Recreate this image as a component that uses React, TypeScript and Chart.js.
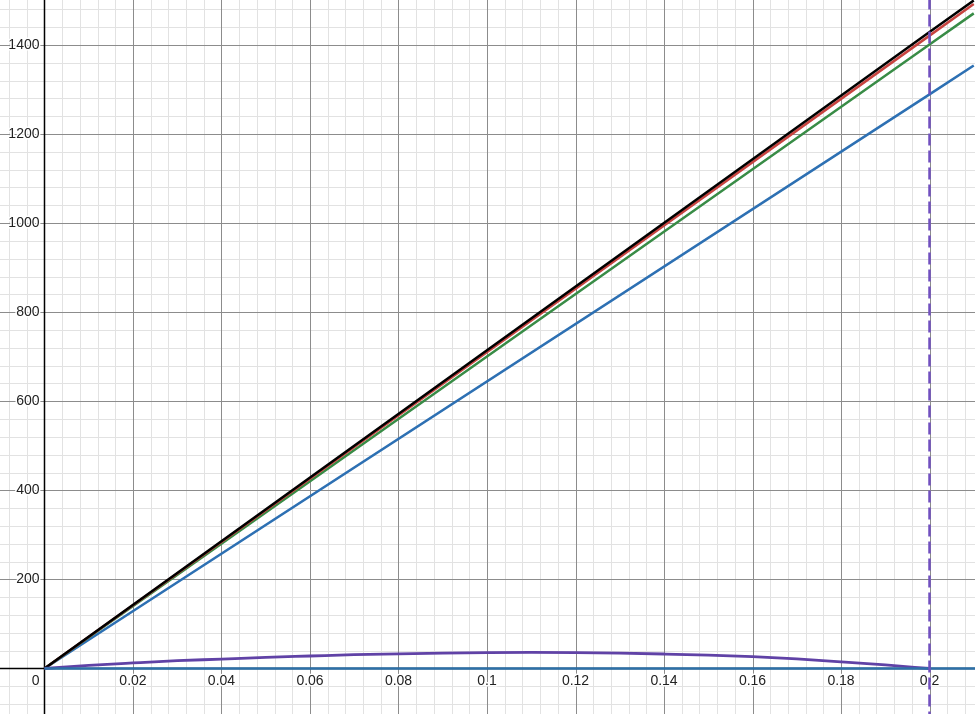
import React, { useEffect, useRef } from 'react';
import { Chart, registerables } from 'chart.js';

Chart.register(...registerables);

// Visible window (graph units)
const X_MIN = -0.010056;
const X_MAX = 0.210282;
const Y_MIN = -102.2;
const Y_MAX = 1501;

// Straight lines through the origin
const lineX = [0, 0.2, 0.21];
const blackY = [0, 1429, 1500];
const redY = [0, 1421, 1492];
const greenY = [0, 1401, 1471];
const blueY = [0, 1289, 1354];

// Purple curve
const curveX = [0, 0.01, 0.02, 0.03, 0.04, 0.05, 0.06, 0.07, 0.08, 0.09, 0.1, 0.11, 0.12, 0.13, 0.14, 0.15, 0.16, 0.17, 0.18, 0.19, 0.2];
const curveY = [0, 7, 12.5, 17.5, 21, 25, 28, 31, 33, 34.5, 35.5, 36, 35.5, 34.5, 32.5, 30, 26.5, 21.5, 15, 8, 0];

// Horizontal base line
const baseX = [0, 0.22];
const baseY = [0, 0];

// Dashed vertical line
const vertX = [0.2, 0.2];
const vertY = [-200, 1600];

// Tick labels
const xTickValues = [0.02, 0.04, 0.06, 0.08, 0.1, 0.12, 0.14, 0.16, 0.18, 0.2];
const xTickLabels = ['0.02', '0.04', '0.06', '0.08', '0.1', '0.12', '0.14', '0.16', '0.18', '0.2'];
const yTickValues = [200, 400, 600, 800, 1000, 1200, 1400];
const yTickLabels = ['200', '400', '600', '800', '1000', '1200', '1400'];

const X_MINOR = 0.004;
const X_MAJOR = 0.02;
const Y_MINOR = 40;
const Y_MAJOR = 200;

const pts = (xs: number[], ys: number[]) => xs.map((x, i) => ({ x, y: ys[i] }));

const gridPlugin = {
  id: 'desmosGrid',
  beforeDatasetsDraw(chart: any) {
    const { ctx, chartArea, scales } = chart;
    const xs = scales.x;
    const ys = scales.y;
    const { left, right, top, bottom } = chartArea;
    ctx.save();
    const crisp = (v: number) => Math.round(v) + 0.5;

    const vLine = (v: number, color: string, w: number) => {
      const px = crisp(xs.getPixelForValue(v));
      ctx.strokeStyle = color;
      ctx.lineWidth = w;
      ctx.beginPath();
      ctx.moveTo(px, top);
      ctx.lineTo(px, bottom);
      ctx.stroke();
    };
    const hLine = (v: number, color: string, w: number) => {
      const py = crisp(ys.getPixelForValue(v));
      ctx.strokeStyle = color;
      ctx.lineWidth = w;
      ctx.beginPath();
      ctx.moveTo(left, py);
      ctx.lineTo(right, py);
      ctx.stroke();
    };

    // minor grid
    for (let i = Math.ceil(X_MIN / X_MINOR); i * X_MINOR <= X_MAX; i++) {
      if (i % 5 !== 0) vLine(i * X_MINOR, '#e2e2e2', 1);
    }
    for (let i = Math.ceil(Y_MIN / Y_MINOR); i * Y_MINOR <= Y_MAX; i++) {
      if (i % 5 !== 0) hLine(i * Y_MINOR, '#e2e2e2', 1);
    }
    // major grid
    for (let i = Math.ceil(X_MIN / X_MAJOR); i * X_MAJOR <= X_MAX; i++) {
      if (i !== 0) vLine(i * X_MAJOR, '#8c8c8c', 1);
    }
    for (let i = Math.ceil(Y_MIN / Y_MAJOR); i * Y_MAJOR <= Y_MAX; i++) {
      if (i !== 0) hLine(i * Y_MAJOR, '#8c8c8c', 1);
    }

    // axes
    const ox = xs.getPixelForValue(0);
    const oy = ys.getPixelForValue(0);
    ctx.strokeStyle = '#000';
    ctx.lineWidth = 1.5;
    ctx.beginPath();
    ctx.moveTo(ox, top);
    ctx.lineTo(ox, bottom);
    ctx.moveTo(left, oy);
    ctx.lineTo(right, oy);
    ctx.stroke();

    // labels
    ctx.font = '14px "Liberation Sans", Arial, sans-serif';
    ctx.lineJoin = 'round';
    const label = (t: string, x: number, y: number, align: CanvasTextAlign) => {
      ctx.textAlign = align;
      ctx.textBaseline = 'middle';
      ctx.strokeStyle = '#fff';
      ctx.lineWidth = 3;
      ctx.strokeText(t, x, y);
      ctx.fillStyle = '#222';
      ctx.fillText(t, x, y);
    };
    xTickValues.forEach((v, i) => label(xTickLabels[i], xs.getPixelForValue(v), oy + 13, 'center'));
    yTickValues.forEach((v, i) => label(yTickLabels[i], ox - 5, ys.getPixelForValue(v), 'right'));
    label('0', ox - 5, oy + 13, 'right');
    ctx.restore();
  },
};

export default function App() {
  const ref = useRef<HTMLCanvasElement | null>(null);
  useEffect(() => {
    if (!ref.current) return;
    const chart = new Chart(ref.current, {
      type: 'line',
      data: {
        datasets: [
          { data: pts(vertX, vertY), borderColor: '#7150c0', borderWidth: 2.5, borderDash: [12, 5] },
          { data: pts(baseX, baseY), borderColor: '#2d70a8', borderWidth: 2.5 },
          { data: pts(curveX, curveY), borderColor: '#6042a6', borderWidth: 2.8, cubicInterpolationMode: 'monotone' },
          { data: pts(lineX, blackY), borderColor: '#000000', borderWidth: 2.5 },
          { data: pts(lineX, redY), borderColor: '#c74440', borderWidth: 2.5 },
          { data: pts(lineX, greenY), borderColor: '#388c46', borderWidth: 2.5 },
          { data: pts(lineX, blueY), borderColor: '#2d70b3', borderWidth: 2.5 },
        ] as any,
      },
      options: {
        animation: false,
        responsive: false,
        layout: { padding: 0 },
        elements: { point: { radius: 0, hoverRadius: 0 }, line: { borderCapStyle: 'butt', fill: false } },
        plugins: { legend: { display: false }, tooltip: { enabled: false } },
        events: [],
        scales: {
          x: { type: 'linear', min: X_MIN, max: X_MAX, display: false },
          y: { type: 'linear', min: Y_MIN, max: Y_MAX, display: false },
        },
      },
      plugins: [gridPlugin],
    });
    return () => chart.destroy();
  }, []);
  return (
    <div style={{ position: 'absolute', left: 0, top: 0, width: 975, height: 714, background: '#fff' }}>
      <canvas ref={ref} width={975} height={714} style={{ display: 'block' }} />
    </div>
  );
}
